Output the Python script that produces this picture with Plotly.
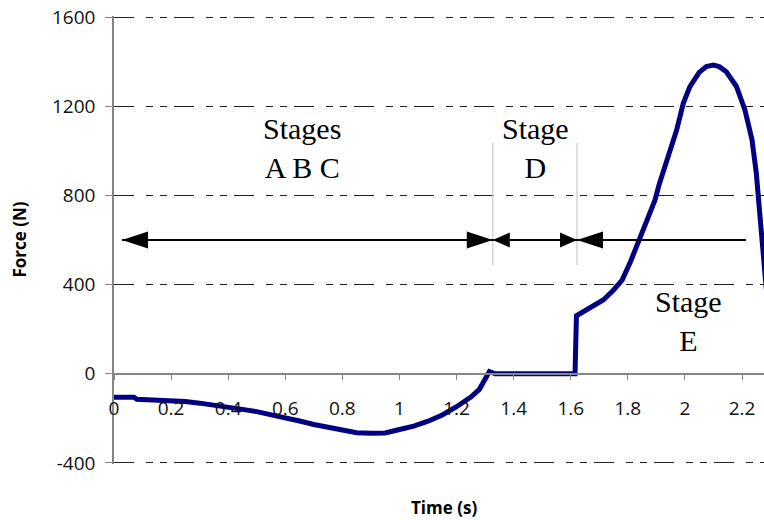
import plotly.graph_objects as go

# Measured force trace during the movement
time_s = [0.0, 0.07, 0.08, 0.2, 0.25, 0.3, 0.35, 0.4, 0.45, 0.5, 0.55, 0.6, 0.65,
          0.7, 0.75, 0.8, 0.85, 0.9, 0.95, 1.0, 1.05, 1.1, 1.15, 1.2, 1.25, 1.28,
          1.3, 1.315, 1.335, 1.615, 1.62, 1.645, 1.68, 1.715, 1.75, 1.78, 1.81,
          1.84, 1.875, 1.895, 1.91, 1.936, 1.971, 1.994, 2.017, 2.05, 2.075, 2.1,
          2.12, 2.145, 2.18, 2.21, 2.235, 2.25, 2.26, 2.27, 2.285]
force_n = [-105, -105, -115, -120, -125, -132, -140, -150, -160, -170, -183, -197, -212,
           -228, -240, -252, -265, -267, -266, -250, -235, -213, -185, -148, -105, -70,
           -25, 10, 0, 0, 260, 280, 308, 332, 376, 420, 505,
           598, 718, 779, 850, 958, 1093, 1212, 1287, 1352, 1378, 1385,
           1378, 1355, 1290, 1185, 1050, 900, 750, 600, 380]

# Axis ticks
x_ticks = [0, 0.2, 0.4, 0.6, 0.8, 1.0, 1.2, 1.4, 1.6, 1.8, 2.0, 2.2]
y_ticks = [-400, 0, 400, 800, 1200, 1600]
y_tick_text = ["-400", "0", "400", "800", "1200", "1600"]

# Stage boundaries along the time axis and the level of the span arrows
stage_edges = [0.028, 1.327, 1.622, 2.214]
arrow_level = 600
divider_range = [488, 1035]
# arrowhead (length, half-height) in px for each span: (left head, right head)
span_heads = [((26, 8.5), (26, 8.5)), ((17, 7.5), (17, 7.5)), ((26, 8.5), None)]

stage_labels = ["Stages<br>A B C", "Stage<br>D", "Stage<br>E"]
label_x = [0.658, 1.478, 2.014]
label_y = [1012, 1012, 236]

fig = go.Figure()
fig.add_trace(go.Scatter(
    x=time_s, y=force_n, mode="lines",
    line=dict(color="#000080", width=5),
    hoverinfo="skip", showlegend=False,
))

shapes = []
# thin grey dividers between stages
for xe in stage_edges[1:3]:
    shapes.append(dict(type="line", xref="x", yref="y", x0=xe, x1=xe,
                       y0=divider_range[0], y1=divider_range[1],
                       line=dict(color="#d4d4d4", width=1.5), layer="above"))


def head(x_tip, size, direction):
    ln, hh = size
    d = ln * direction  # +1 points left (body to the right), -1 points right
    return dict(type="path", xref="x", yref="y",
                xsizemode="pixel", ysizemode="pixel",
                xanchor=x_tip, yanchor=arrow_level,
                path=f"M0,0 L{d},{hh} L{d},{-hh} Z",
                fillcolor="black", line=dict(color="black", width=0),
                layer="above")


for i, (lh, rh) in enumerate(span_heads):
    xa, xb = stage_edges[i], stage_edges[i + 1]
    shapes.append(dict(type="line", xref="x", yref="y", x0=xa, x1=xb,
                       y0=arrow_level, y1=arrow_level,
                       line=dict(color="black", width=2), layer="above"))
    if lh:
        shapes.append(head(xa, lh, 1))
    if rh:
        shapes.append(head(xb, rh, -1))

annotations = []
for txt, lx, ly in zip(stage_labels, label_x, label_y):
    annotations.append(dict(text=txt, x=lx, y=ly, xref="x", yref="y",
                            showarrow=False, xanchor="center", yanchor="middle",
                            font=dict(family="Liberation Serif", size=30, color="black")))

annotations.append(dict(text="<b>Time (s)</b>", xref="paper", yref="paper",
                        x=0.508, y=0, yshift=-43, showarrow=False,
                        xanchor="center", yanchor="middle",
                        font=dict(family="Open Sans", size=17, color="black")))
annotations.append(dict(text="<b>Force (N)</b>", xref="paper", yref="paper",
                        x=0, y=0.5, xshift=-95.5, showarrow=False, textangle=-90,
                        xanchor="center", yanchor="middle",
                        font=dict(family="Open Sans", size=17, color="black")))

axis_grey = "#868686"
fig.update_layout(
    width=764, height=520,
    margin=dict(l=114, r=0, t=16, b=56),
    paper_bgcolor="white", plot_bgcolor="white",
    showlegend=False,
    shapes=shapes,
    annotations=annotations,
    xaxis=dict(
        range=[0, 2.277], anchor="free", position=405 / 2010,
        tickvals=x_ticks, ticks="outside", ticklen=6, tickcolor=axis_grey,
        showline=True, linecolor=axis_grey, linewidth=1.5,
        showgrid=False, zeroline=False,
        ticklabelstandoff=12,
        tickfont=dict(family="Open Sans", size=19, color="#111"),
    ),
    yaxis=dict(
        range=[-405, 1605], tickvals=y_ticks, ticktext=y_tick_text,
        ticks="outside", ticklen=7, tickcolor=axis_grey,
        showline=True, linecolor=axis_grey, linewidth=1.5,
        showgrid=True, gridcolor="#222222", gridwidth=1,
        griddash="20px,12px,7px,7px,7px,7px",
        zeroline=True, zerolinecolor=axis_grey, zerolinewidth=1.5,
        ticklabelstandoff=6,
        tickfont=dict(family="Open Sans", size=19, color="#111"),
    ),
)

fig.write_html("out.html")
